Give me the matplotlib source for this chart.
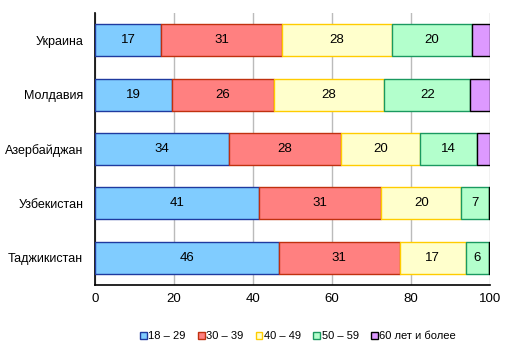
import numpy as np
import matplotlib
matplotlib.use("Agg")
import matplotlib.pyplot as plt
from matplotlib.patches import Patch

plt.rcParams['font.family'] = ['Liberation Sans', 'DejaVu Sans']

# data (percent of migrants by age group)
countries = ['Украина', 'Молдавия', 'Азербайджан', 'Узбекистан', 'Таджикистан']
age_groups = ['18 – 29', '30 – 39', '40 – 49', '50 – 59', '60 лет и более']
g18_29 = [16.7, 19.4, 33.8, 41.4, 46.5]
g30_39 = [30.6, 25.8, 28.4, 31.1, 30.6]
g40_49 = [27.8, 28.0, 20.1, 20.2, 16.7]
g50_59 = [20.4, 21.8, 14.4, 7.1, 5.9]
g60 = [4.5, 5.0, 3.3, 0.2, 0.3]

face = ['#80CCFF', '#FF8080', '#FFFFCC', '#B3FFCC', '#DD99FF']
edge = ['#1F3A9F', '#C0300F', '#FFCC00', '#1A9960', '#000000']

fig = plt.figure(figsize=(5.14, 3.5), dpi=100)
ax = fig.add_axes([95/514, 1 - 285/350, (490 - 95)/514, (285 - 13)/350])

series = [g18_29, g30_39, g40_49, g50_59, g60]
y = np.arange(len(countries))
left = np.zeros(len(countries))
for i, vals in enumerate(series):
    vals = np.array(vals)
    ax.barh(y, vals, left=left, height=0.59, color=face[i], edgecolor=edge[i],
            linewidth=1.0, zorder=3)
    for j, v in enumerate(vals):
        if v >= 5.5:
            ax.text(left[j] + v / 2, y[j], str(int(round(v))), ha='center',
                    va='center', fontsize=9.5, zorder=4)
    left = left + vals

ax.set_xlim(0, 100)
ax.set_ylim(len(countries) - 0.5, -0.5)
ax.set_yticks(y)
ax.set_yticklabels(countries, fontsize=9)
ax.set_xticks([0, 20, 40, 60, 80, 100])
ax.tick_params(axis='x', labelsize=9.5, length=0, pad=6)
ax.tick_params(axis='y', length=0, pad=8.5)
ax.grid(axis='x', color='#BBBBBB', linewidth=1, zorder=0)
ax.spines['top'].set_visible(False)
ax.spines['right'].set_visible(False)
ax.spines['left'].set_linewidth(1.2)
ax.spines['bottom'].set_linewidth(1.2)

handles = [Patch(facecolor=face[i], edgecolor=edge[i], linewidth=1.0)
           for i in range(5)]
fig.legend(handles, age_groups, loc='center', bbox_to_anchor=(298/514, 1 - 336/350),
           ncol=5, frameon=False, fontsize=8, handlelength=0.6,
           handleheight=0.6, handletextpad=0.15, columnspacing=1.1)

fig.savefig('out.png', dpi=100)
